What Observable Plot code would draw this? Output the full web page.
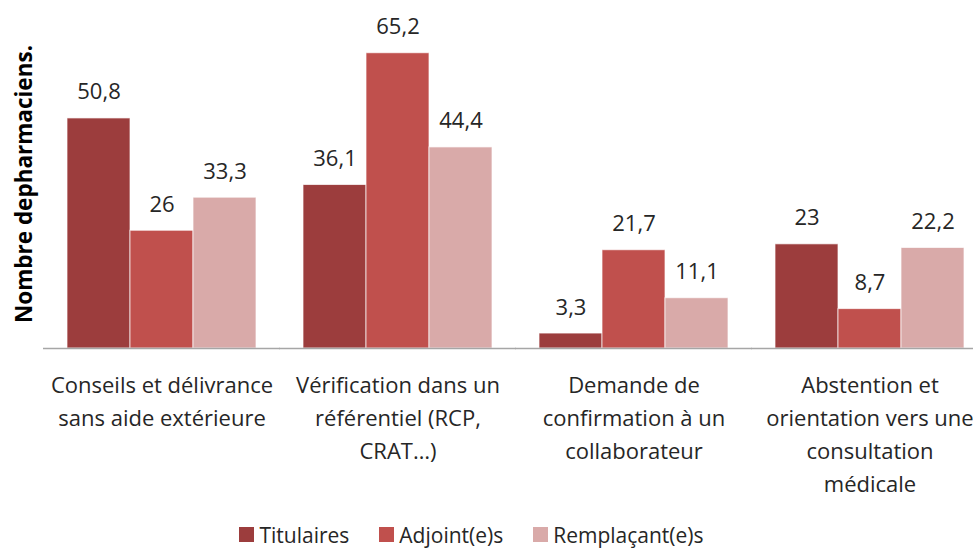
<!DOCTYPE html>
<html>
<head>
<meta charset="utf-8">
<script src="https://cdn.jsdelivr.net/npm/d3@7"></script>
<script src="https://cdn.jsdelivr.net/npm/@observablehq/plot@0.6"></script>
<style>
  html, body { margin: 0; padding: 0; background: #fff; overflow: hidden; }
  #chart { width: 973px; }
  #legend { display: flex; justify-content: center; margin-left: 0px; }
  #legend > div > span { margin-right: 30px !important; }
  #legend svg { margin-right: 5px !important; }
</style>
</head>
<body>
<div id="chart"></div>
<div id="legend"></div>
<script>
const categories = [
  "Conseils et délivrance\nsans aide extérieure",
  "Vérification dans un\nréférentiel (RCP,\nCRAT…)",
  "Demande de\nconfirmation à un\ncollaborateur",
  "Abstention et\norientation vers une\nconsultation\nmédicale"
];
const series = ["Titulaires", "Adjoint(e)s", "Remplaçant(e)s"];
const titulaires = [50.8, 36.1, 3.3, 23];
const adjoints = [26, 65.2, 21.7, 8.7];
const remplacants = [33.3, 44.4, 11.1, 22.2];
const colors = ["#9c3d3d", "#c0504d", "#d9aaa9"];
const yLabel = "Nombre depharmaciens.";

const values = [titulaires, adjoints, remplacants];
const data = [];
categories.forEach((c, i) => {
  series.forEach((s, j) => data.push({category: c, series: s, value: values[j][i]}));
});
const fmt = v => String(v).replace(".", ",");
const font = "Open Sans, sans-serif";

const chart = Plot.plot({
  width: 973,
  height: 518,
  marginTop: 31,
  marginBottom: 170,
  marginLeft: 42,
  marginRight: -15,
  style: {fontFamily: font, color: "#262626", background: "#fff"},
  fx: {domain: categories, paddingInner: 0.2, paddingOuter: 0.1, axis: null, label: null},
  x: {domain: series, padding: 0, axis: null},
  y: {domain: [0, 70], axis: null},
  color: {domain: series, range: colors},
  marks: [
    Plot.barY(data, {fx: "category", x: "series", y: "value", fill: "series", stroke: "#fff", strokeWidth: 1, strokeOpacity: 0.7}),
    Plot.text(data, {fx: "category", x: "series", y: "value", text: d => fmt(d.value), dy: -26, fontSize: 22, fill: "#262626"}),
    Plot.ruleY([0], {stroke: "#a6a6a6", strokeWidth: 1.5, insetLeft: -24, insetRight: -24}),
    Plot.axisFx({anchor: "bottom", tickSize: 0, tickPadding: 21, fontSize: 22, lineHeight: 1.5, label: null, fill: "#262626"}),
    Plot.text([yLabel], {fx: [categories[0]], text: d => d, frameAnchor: "left", textAnchor: "middle", rotate: -90, dx: -43, dy: -6, fontSize: 22.5, fontWeight: "bold", fill: "#000"})
  ]
});
document.getElementById("chart").appendChild(chart);

const legend = Plot.legend({
  color: {domain: series, range: colors},
  legend: "swatches",
  swatchSize: 15,
  style: {fontFamily: font, fontSize: "21px", color: "#262626", columnGap: "0px", margin: "0"}
});
document.getElementById("legend").appendChild(legend);
</script>
</body>
</html>
